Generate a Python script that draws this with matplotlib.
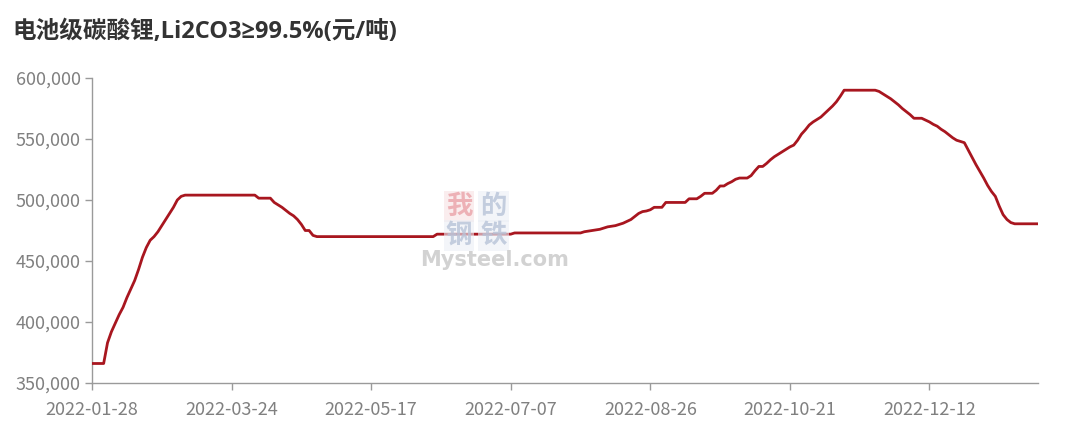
"""Battery-grade lithium carbonate price line chart (Mysteel style)."""

import matplotlib
matplotlib.use("Agg")
import matplotlib.pyplot as plt
from matplotlib.ticker import FuncFormatter

plt.rcParams["font.family"] = ["Noto Sans CJK SC", "DejaVu Sans"]

title = "电池级碳酸锂,Li2CO3≥99.5%(元/吨)"

# daily prices (yuan/ton), one per trading day
prices = [
    366000, 366000, 366000, 366000, 383000, 392000, 399000, 406000, 412000, 420000,
    427000, 434000, 443000, 453000, 461000, 467000, 470000, 474000, 479000, 484000,
    489000, 494000, 500000, 503000, 504000, 504000, 504000, 504000, 504000, 504000,
    504000, 504000, 504000, 504000, 504000, 504000, 504000, 504000, 504000, 504000,
    504000, 504000, 504000, 501500, 501500, 501500, 501500, 498000, 496000, 494000,
    491500, 489000, 487000, 484000, 480000, 475000, 475000, 471000, 470000, 470000,
    470000, 470000, 470000, 470000, 470000, 470000, 470000, 470000, 470000, 470000,
    470000, 470000, 470000, 470000, 470000, 470000, 470000, 470000, 470000, 470000,
    470000, 470000, 470000, 470000, 470000, 470000, 470000, 470000, 470000, 472000,
    472000, 472000, 472000, 472000, 472000, 472000, 472000, 472000, 472000, 472000,
    472000, 472000, 472000, 472000, 472000, 472000, 472000, 472000, 472000, 473000,
    473000, 473000, 473000, 473000, 473000, 473000, 473000, 473000, 473000, 473000,
    473000, 473000, 473000, 473000, 473000, 473000, 473000, 474000, 474500, 475000,
    475500, 476000, 477000, 478000, 478500, 479000, 480000, 481000, 482500, 484000,
    486500, 489000, 490500, 491000, 492000, 494000, 494000, 494000, 498000, 498000,
    498000, 498000, 498000, 498000, 501000, 501000, 501000, 503000, 505500, 505500,
    505500, 508000, 511500, 511500, 513500, 515000, 517000, 518000, 518000, 518000,
    520000, 524000, 527500, 527500, 530000, 533000, 535500, 537500, 539500, 541500,
    543500, 545000, 549000, 554000, 557500, 561500, 564000, 566000, 568000, 571000,
    574000, 577000, 580500, 585000, 590000, 590000, 590000, 590000, 590000, 590000,
    590000, 590000, 590000, 589000, 587000, 585000, 583000, 580500, 578000, 575000,
    572500, 570000, 567000, 567000, 567000, 565500, 564000, 562000, 560500, 558000,
    556000, 553500, 551000, 549000, 548000, 547000, 541000, 535000, 529000, 523500,
    518000, 512000, 507000, 503000, 495000, 488000, 484000, 481500, 480500, 480500,
    480500, 480500, 480500, 480500, 480500,
]

tick_labels = ["2022-01-28", "2022-03-24", "2022-05-17", "2022-07-07",
               "2022-08-26", "2022-10-21", "2022-12-12"]
y_ticks = [350000, 400000, 450000, 500000, 550000, 600000]

fig = plt.figure(figsize=(10.8, 4.26), dpi=100)
fig.patch.set_facecolor("#ffffff")
ax = fig.add_axes([0.0852, 0.1009, 0.8759, 0.716])

# watermark: four faint tiles + site name
tiles = [("我", 0.425, 0.515, "#f8e1e3", "#eaa3a9"),
         ("的", 0.457, 0.515, "#eceff5", "#b7c3d8"),
         ("钢", 0.425, 0.447, "#eceff5", "#b7c3d8"),
         ("铁", 0.457, 0.447, "#eceff5", "#b7c3d8")]
for ch, tx, ty, bg, fg in tiles:
    fig.text(tx, ty, ch, fontsize=19, color=fg, alpha=0.8, ha="center", va="center",
             fontweight="bold",
             bbox=dict(boxstyle="square,pad=0.08", facecolor=bg, edgecolor="none", alpha=0.6))
fig.text(0.458, 0.39, "Mysteel.com", fontsize=15, color="#d2d2d2",
         ha="center", va="center", fontweight="bold", family="DejaVu Sans")

x = list(range(len(prices)))
ax.plot(x, prices, color="#a8161f", linewidth=2.0, solid_joinstyle="round", zorder=3)

ax.set_xlim(0, len(prices) - 1)
ax.set_ylim(350000, 600000)
ax.set_xticks([36 * i for i in range(len(tick_labels))])
ax.set_xticklabels(tick_labels)
ax.set_yticks(y_ticks)
ax.yaxis.set_major_formatter(FuncFormatter(lambda v, _: f"{int(v):,}"))

for side in ("top", "right"):
    ax.spines[side].set_visible(False)
for side in ("left", "bottom"):
    ax.spines[side].set_color("#9a9a9a")
    ax.spines[side].set_linewidth(1.0)
ax.tick_params(axis="both", colors="#9a9a9a", length=5, width=1.0,
               labelcolor="#808080", labelsize=13)
ax.tick_params(axis="x", pad=8)
ax.tick_params(axis="y", pad=3)

fig.text(0.011, 0.925, title, fontsize=17, fontweight="bold",
         color="#333333", ha="left", va="center",
         family=["Open Sans", "Liberation Sans", "Noto Sans CJK SC"])

fig.savefig("out.png", dpi=100)
